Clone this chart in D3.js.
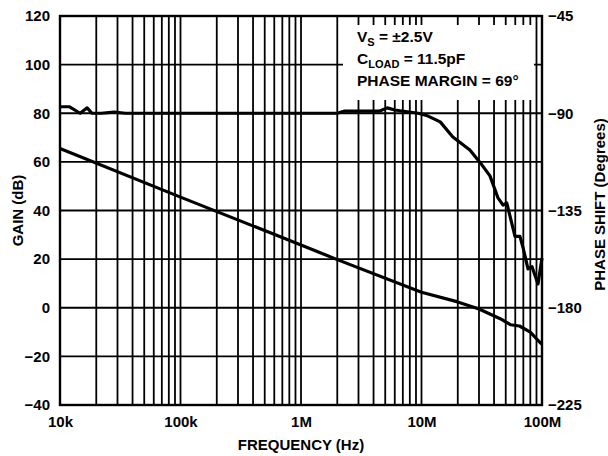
<!DOCTYPE html>
<html>
<head>
<meta charset="utf-8">
<script src="https://cdn.jsdelivr.net/npm/d3@7"></script>
<style>
	body { margin: 0; background: #fff; }
	text { font-family: "Liberation Sans", Arial, sans-serif; font-weight: bold; fill: #000; }
</style>
</head>
<body>
<script>
// gain curve (dB)
const gainFreq = [1e4, 1e5, 1e6, 2e6, 1e7, 2e7, 3e7, 4.5e7, 5.5e7, 6.5e7, 8e7, 9.5e7, 1e8];
const gainDb = [65.5, 45.5, 25.8, 19.8, 6.4, 2.4, -0.5, -4.5, -7, -7.5, -10, -14, -15];

// phase curve (degrees)
const phaseFreq = [1e4, 1.2e4, 1.47e4, 1.68e4, 1.84e4, 2.2e4, 2.8e4, 3.5e4, 1e5, 1e6, 2e6, 2.3e6, 4.5e6, 5.2e6,
	6e6, 9.4e6, 1.1e7, 1.43e7, 1.82e7, 2.09e7, 2.52e7, 3.18e7, 3.7e7, 4.3e7, 4.75e7, 5.1e7, 5.97e7,
	6.56e7, 6.95e7, 7.65e7, 8.26e7, 9.26e7, 1e8];
const phaseDeg = [-87, -87, -90, -87.5, -90, -90, -89.5, -90, -90, -90, -90, -89, -89, -87.5,
	-88.5, -90, -91, -94, -101, -103.5, -107, -114, -119, -129, -132.5, -131.5, -147,
	-147, -152, -162, -161, -169, -157];

const gainTicks = [120, 100, 80, 60, 40, 20, 0, -20, -40];
const phaseTicks = [-45, -90, -135, -180, -225];
const freqTicks = [1e4, 1e5, 1e6, 1e7, 1e8];
const freqLabels = ["10k", "100k", "1M", "10M", "100M"];
const notes = [["V", "S", " = ±2.5V"], ["C", "LOAD", " = 11.5pF"], ["PHASE MARGIN = 69°", "", ""]];

const svgWidth = 608;
const svgHeight = 456;
const margin = { top: 16, right: 66, bottom: 51, left: 60 };
const width = svgWidth - margin.left - margin.right;
const height = svgHeight - margin.top - margin.bottom;

const svg = d3.select("body").append("svg")
	.attr("width", svgWidth)
	.attr("height", svgHeight);

const g = svg.append("g").attr("transform", `translate(${margin.left},${margin.top})`);

//scales
const xScale = d3.scaleLog().domain([1e4, 1e8]).range([0, width]);
const yScale = d3.scaleLinear().domain([-40, 120]).range([height, 0]);
const yPhase = d3.scaleLinear().domain([-225, -45]).range([height, 0]);

//=====
//grid
//=====
const minor = [];
for (let dec = 1e4; dec < 1e8; dec *= 10) {
	for (let m = 1; m < 10; m++) minor.push(dec * m);
}
g.selectAll(".vgrid")
	.data(minor)
	.enter()
	.append("line")
	.attr("x1", (d) => xScale(d))
	.attr("x2", (d) => xScale(d))
	.attr("y1", 0)
	.attr("y2", height)
	.attr("stroke", "#000")
	.attr("stroke-width", 1.8);

g.selectAll(".hgrid")
	.data(gainTicks)
	.enter()
	.append("line")
	.attr("x1", 0)
	.attr("x2", width)
	.attr("y1", (d) => yScale(d))
	.attr("y2", (d) => yScale(d))
	.attr("stroke", "#000")
	.attr("stroke-width", 1.8);

g.append("rect")
	.attr("width", width)
	.attr("height", height)
	.attr("fill", "none")
	.attr("stroke", "#000")
	.attr("stroke-width", 2.4);

//annotation box covers the grid
g.append("rect")
	.attr("x", 283)
	.attr("y", 9)
	.attr("width", 191)
	.attr("height", 75)
	.attr("fill", "#fff");

const note = g.selectAll(".note")
	.data(notes)
	.enter()
	.append("text")
	.attr("x", 297)
	.attr("y", (d, i) => 26 + i * 22)
	.style("font-size", "15.5px");
note.append("tspan").text((d) => d[0]);
note.append("tspan").attr("dy", 4).style("font-size", "11px").text((d) => d[1]);
note.append("tspan").attr("dy", -4).text((d) => d[2]);

//=====
//curves
//=====
const gainLine = d3.line()
	.x((d, i) => xScale(gainFreq[i]))
	.y((d) => yScale(d));

g.append("path")
	.datum(gainDb)
	.attr("d", gainLine)
	.attr("fill", "none")
	.attr("stroke", "#000")
	.attr("stroke-width", 3.2)
	.attr("stroke-linejoin", "round");

const phaseLine = d3.line()
	.x((d, i) => xScale(phaseFreq[i]))
	.y((d) => yPhase(d));

g.append("path")
	.datum(phaseDeg)
	.attr("d", phaseLine)
	.attr("fill", "none")
	.attr("stroke", "#000")
	.attr("stroke-width", 3.2)
	.attr("stroke-linejoin", "round");

//=====
//axes
//=====
const fmt = d3.format("d");
g.append("g")
	.call(d3.axisLeft(yScale).tickValues(gainTicks).tickSize(0).tickPadding(10).tickFormat(fmt))
	.call((a) => a.select(".domain").remove())
	.selectAll("text")
	.style("font-size", "15px");

g.append("g")
	.attr("transform", `translate(${width},0)`)
	.call(d3.axisRight(yPhase).tickValues(phaseTicks).tickSize(0).tickPadding(6).tickFormat(fmt))
	.call((a) => a.select(".domain").remove())
	.selectAll("text")
	.style("font-size", "15px");

g.append("g")
	.attr("transform", `translate(0,${height})`)
	.call(d3.axisBottom(xScale).tickValues(freqTicks).tickSize(0).tickPadding(11)
		.tickFormat((d, i) => freqLabels[i]))
	.call((a) => a.select(".domain").remove())
	.selectAll("text")
	.style("font-size", "15px");

//titles
svg.append("text")
	.attr("transform", `translate(23,${margin.top + height / 2}) rotate(-90)`)
	.attr("text-anchor", "middle")
	.style("font-size", "15px")
	.text("GAIN (dB)");

svg.append("text")
	.attr("transform", `translate(605,${margin.top + height / 2 - 6}) rotate(-90)`)
	.attr("text-anchor", "middle")
	.style("font-size", "15px")
	.text("PHASE SHIFT (Degrees)");

svg.append("text")
	.attr("x", margin.left + xScale(1e6))
	.attr("y", 450)
	.attr("text-anchor", "middle")
	.style("font-size", "15px")
	.text("FREQUENCY (Hz)");
</script>
</body>
</html>
